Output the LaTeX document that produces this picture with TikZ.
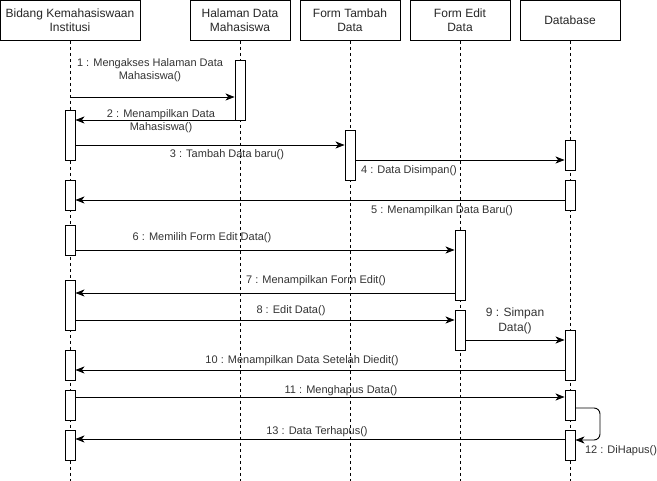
\documentclass[tikz,border=0pt]{standalone}
\usepackage{fontspec}
\setmainfont{Liberation Sans}
\usetikzlibrary{arrows.meta}
\begin{document}
\begin{tikzpicture}[x=1pt,y=-1pt,
  head/.style={draw, minimum width=100pt, minimum height=40pt, inner sep=1pt, align=center, font=\fontsize{12}{14}\selectfont, anchor=north, text=black!85},
  life/.style={dash pattern=on 3pt off 3pt, line width=0.9pt},
  act/.style={draw, fill=white, minimum width=10pt, inner sep=0pt, anchor=north, line width=0.9pt},
  msg/.style={-{Stealth[length=9pt,width=7pt,inset=2.5pt]}, line width=0.9pt},
  lbl/.style={font=\fontsize{11}{13.5}\selectfont, align=center, inner sep=0pt, text=black!80}
]
\useasboundingbox (0,0) rectangle (657,481);
% headers
\node[head, minimum width=140pt] (H1) at (70,0.5) {Bidang Kemahasiswaan\\Institusi};
\node[head] (H2) at (240,0.5) {Halaman Data\\Mahasiswa};
\node[head] (H3) at (350,0.5) {Form Tambah\\Data};
\node[head] (H4) at (460,0.5) {Form Edit\\Data};
\node[head] (H5) at (570,0.5) {Database};
\coordinate (bot) at (0,481);
% lifelines
\foreach \h in {H1,H2,H3,H4,H5}{\draw[life] (\h.south) -- (\h.south |- bot);}
% activations
\node[act, minimum height=60pt] (HM1) at (240,60) {};
\node[act, minimum height=50pt] (B1) at (70,110) {};
\node[act, minimum height=50pt] (FT1) at (350,130) {};
\node[act, minimum height=30pt] (D1) at (570,140) {};
\node[act, minimum height=30pt] (D2) at (570,180) {};
\node[act, minimum height=30pt] (B2) at (70,180) {};
\node[act, minimum height=30pt] (B3) at (70,225) {};
\node[act, minimum height=70pt] (FE1) at (460,230) {};
\node[act, minimum height=50pt] (B4) at (70,280) {};
\node[act, minimum height=40pt] (FE2) at (460,310) {};
\node[act, minimum height=50pt] (D3) at (570,330) {};
\node[act, minimum height=30pt] (B5) at (70,350) {};
\node[act, minimum height=30pt] (B6) at (70,390) {};
\node[act, minimum height=30pt] (D4) at (570,390) {};
\node[act, minimum height=30pt] (B7) at (70,430) {};
\node[act, minimum height=30pt] (D5) at (570,430) {};
% message heights
\coordinate (y1) at (0,97);
\coordinate (y2) at (0,120);
\coordinate (y3) at (0,145);
\coordinate (y4) at (0,160);
\coordinate (y5) at (0,200);
\coordinate (y6) at (0,250);
\coordinate (y7) at (0,293);
\coordinate (y8) at (0,320);
\coordinate (y9) at (0,340);
\coordinate (y10) at (0,370);
\coordinate (y11) at (0,397);
\coordinate (y12a) at (0,408);
\coordinate (y12b) at (0,440);
\coordinate (y13) at (0,439);
\coordinate (x12) at (600,0);
% messages
\draw[msg] (H1.south |- y1) -- (HM1.west |- y1);
\draw[msg] (HM1.west |- y2) -- (B1.east |- y2);
\draw[msg] (B1.east |- y3) -- (FT1.west |- y3);
\draw[msg] (FT1.east |- y4) -- (D1.west |- y4);
\draw[msg] (D2.west |- y5) -- (B2.east |- y5);
\draw[msg] (B3.east |- y6) -- (FE1.west |- y6);
\draw[msg] (FE1.west |- y7) -- (B4.east |- y7);
\draw[msg] (B4.east |- y8) -- (FE2.west |- y8);
\draw[msg] (FE2.east |- y9) -- (D3.west |- y9);
\draw[msg] (D3.west |- y10) -- (B5.east |- y10);
\draw[msg] (B6.east |- y11) -- (D4.west |- y11);
\draw[msg, rounded corners=6pt] (D4.east |- y12a) -- (x12 |- y12a) -- (x12 |- y12b) -- (D5.east |- y12b);
\draw[msg] (D5.west |- y13) -- (B7.east |- y13);
% labels
\node[lbl] (L1) at (150,70) {1 : Mengakses Halaman Data\\Mahasiswa()};
\node[lbl] (L2) at (161,121) {2 : Menampilkan Data\\Mahasiswa()};
\node[lbl] (L3) at (227,155) {3 : Tambah Data baru()};
\node[lbl] (L4) at (409,171) {4 : Data Disimpan()};
\node[lbl] (L5) at (442,211) {5 : Menampilkan Data Baru()};
\node[lbl] (L6) at (202,238) {6 : Memilih Form Edit Data()};
\node[lbl] (L7) at (316,281) {7 : Menampilkan Form Edit()};
\node[lbl] (L8) at (291,311) {8 : Edit Data()};
\node[lbl, font=\fontsize{12}{14.5}\selectfont] (L9) at (515,321) {9 : Simpan\\Data()};
\node[lbl] (L10) at (302,361) {10 : Menampilkan Data Setelah Diedit()};
\node[lbl] (L11) at (341,391) {11 : Menghapus Data()};
\node[lbl] (L12) at (621,451) {12 : DiHapus()};
\node[lbl] (L13) at (317,432) {13 : Data Terhapus()};
\end{tikzpicture}
\end{document}
